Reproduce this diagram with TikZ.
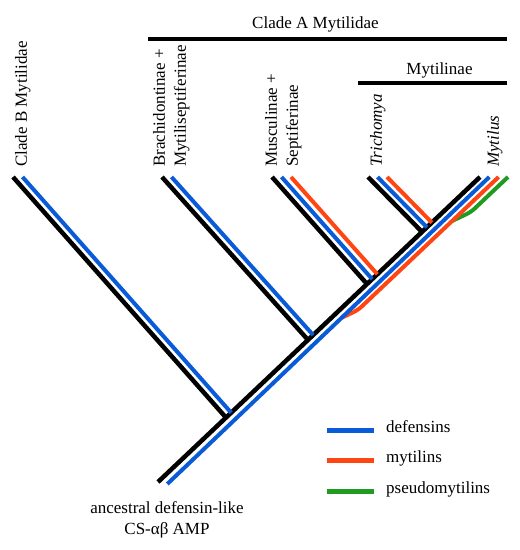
\documentclass[tikz,border=0pt]{standalone}
\usepackage{fontspec}
\setmainfont{Liberation Serif}
\usetikzlibrary{calc}
\definecolor{phyBlue}{HTML}{0A5BD8}
\definecolor{phyRed}{HTML}{FF4512}
\definecolor{phyGreen}{HTML}{1F9C1F}
\tikzset{
  phy black/.style={draw=black, line width=4.5pt},
  phy line/.style={line width=4pt},
  phy bend/.style={line width=4pt, rounded corners=5pt},
  phy bar/.style={draw=black, line width=3.2pt},
  phy key/.style={line width=5pt},
  phy label/.style={font=\fontsize{17}{21}\selectfont, inner sep=0pt},
  phy tip/.style={phy label, rotate=90, anchor=north west, align=left},
}

\begin{document}
\begin{tikzpicture}[x=1pt, y=-1pt]
  \useasboundingbox (0,0) rectangle (520,550);

  % Tips at the top, root at the bottom
  \coordinate (root) at (158,482);
  \coordinate (tipMytilus) at (480,177);
  \coordinate (tipCladeB) at (13,177);
  \coordinate (tipBrachid) at (162,177);
  \coordinate (tipMuscul) at (272,177);
  \coordinate (tipTrichomya) at (368,177);

  % Branch points on the trunk
  \coordinate (nodeCladeB) at (226,417.6);
  \coordinate (nodeBrachid) at (308,339.9);
  \coordinate (nodeMuscul) at (367,284);
  \coordinate (nodeTrichomya) at (422,231.9);

  % Coloured lines along the trunk
  \draw[phy bend, draw=phyGreen] (452,221) -- (471,212) -- ($(tipMytilus)+(28,0)$);
  \draw[phy bend, draw=phyRed] (341,318) -- (358,310) -- ($(tipMytilus)+(18.6,0)$);
  \draw[phy line, draw=phyBlue] ($(root)+(9.3,2)$) -- ($(tipMytilus)+(9.3,0)$);

  % Black tree
  \draw[phy black] (root) -- (tipMytilus);
  \foreach \br in {CladeB,Brachid,Muscul,Trichomya}
    \draw[phy black] (tip\br) -- (node\br);

  % Coloured lines along the side branches, stopped at the trunk
  \foreach \br/\col/\dx in {CladeB/phyBlue/9.5, Brachid/phyBlue/9.5,
      Muscul/phyBlue/9.5, Muscul/phyRed/19,
      Trichomya/phyBlue/9.5, Trichomya/phyRed/19} {
    \coordinate (a) at ($(tip\br)+(\dx,0)$);
    \coordinate (b) at ($(node\br)+(\dx,0)$);
    \draw[phy line, draw=\col] (a) -- (intersection of a--b and root--tipMytilus);
  }

  % Labels of the tips
  \node[phy tip] (labCladeB) at (15,167) {Clade B Mytilidae};
  \node[phy tip] (labBrachid) at (153,167) {Brachidontinae +\\Mytiliseptiferinae};
  \node[phy tip] (labMuscul) at (265,167) {Musculinae +\\Septiferinae};
  \node[phy tip] (labTrichomya) at (370,167) {\textit{Trichomya}};
  \node[phy tip] (labMytilus) at (487,167) {\textit{Mytilus}};

  % Clade bars
  \node[phy label, anchor=base] (cladeA) at (315.5,28) {Clade A Mytilidae};
  \draw[phy bar] (148,39) -- (507,39);
  \node[phy label, anchor=base] (mytilinae) at (439.5,74) {Mytilinae};
  \draw[phy bar] (358,83) -- (507,83);

  % Root label
  \node[phy label, align=center, anchor=north] (ancestor) at (167,501.5)
    {ancestral defensin-like\\CS-αβ AMP};

  % Key
  \foreach \y/\col/\txt [count=\i] in {430/phyBlue/defensins,
      460/phyRed/mytilins, 491/phyGreen/pseudomytilins} {
    \draw[phy key, draw=\col] (327,\y) -- (374,\y);
    \node[phy label, anchor=mid west] (key\i) at (386,\y) {\txt};
  }
\end{tikzpicture}
\end{document}
